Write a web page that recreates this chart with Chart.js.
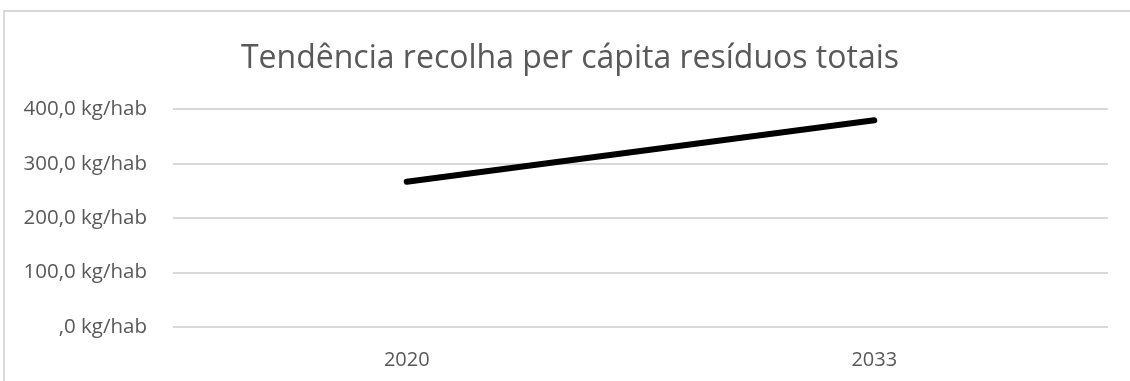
<!DOCTYPE html>
<html>
<head>
<meta charset="utf-8">
<script src="https://cdn.jsdelivr.net/npm/chart.js@4"></script>
<style>
  html, body { margin: 0; padding: 0; background: #fff; overflow: hidden; }
  #frame { position: absolute; left: 3px; top: 10px; width: 1200px; height: 400px; border: 2px solid #d9d9d9; box-sizing: border-box; }
  #wrap { position: absolute; left: 0; top: 0; width: 1130px; height: 381px; }
</style>
</head>
<body>
<div id="frame"></div>
<div id="wrap"><canvas id="chart"></canvas></div>
<script>
var years = ['2020', '2033'];
var perCapita = [267, 380];
var yTicks = [0, 100, 200, 300, 400];

var grey = '#595959';
var gridGrey = '#d9d9d9';

function fmt(v) {
    // excel style: ,0 kg/hab
    var s = v.toFixed(1).replace('.', ',');
    if (s.indexOf('0,') === 0) s = s.substring(1);
    return s + ' kg/hab';
}

var config = {
    type: 'line',
    data: {
        labels: years,
        datasets: [{
            label: 'Recolha per cápita',
            data: perCapita,
            borderColor: '#000',
            borderWidth: 6,
            borderCapStyle: 'round',
            pointRadius: 0,
            tension: 0
        }]
    },
    options: {
        responsive: true,
        maintainAspectRatio: false,
        animation: false,
        layout: { padding: { left: 32, right: 22, top: 0, bottom: 0 } },
        plugins: {
            legend: { display: false },
            tooltip: { enabled: false },
            title: {
                display: true,
                text: 'Tendência recolha per cápita resíduos totais',
                color: grey,
                font: { family: 'Open Sans', size: 32, weight: 'normal', lineHeight: 1.2 },
                padding: { top: 40, bottom: 31 }
            }
        },
        scales: {
            x: {
                offset: true,
                grid: { display: false, drawTicks: false },
                border: { display: false },
                ticks: {
                    color: grey,
                    padding: 21,
                    font: { family: 'Open Sans', size: 20 }
                },
                afterFit: function (scale) { scale.height = 54; }
            },
            y: {
                min: yTicks[0],
                max: yTicks[yTicks.length - 1],
                afterBuildTicks: function (scale) {
                    scale.ticks = yTicks.map(function (v) { return { value: v }; });
                },
                grid: { color: gridGrey, lineWidth: 2, drawTicks: false },
                border: { display: false },
                ticks: {
                    color: grey,
                    padding: 26,
                    font: { family: 'Open Sans', size: 20.5 },
                    callback: function (v) { return fmt(v); }
                },
                afterFit: function (scale) {
                    scale.width = 141;
                    // labels stick out left of the axis box, don't clip them
                    scale._computeLabelArea = function () { return null; };
                }
            }
        }
    }
};

var ctx = document.getElementById('chart');
window.myLine = new Chart(ctx, config);
</script>
</body>
</html>
